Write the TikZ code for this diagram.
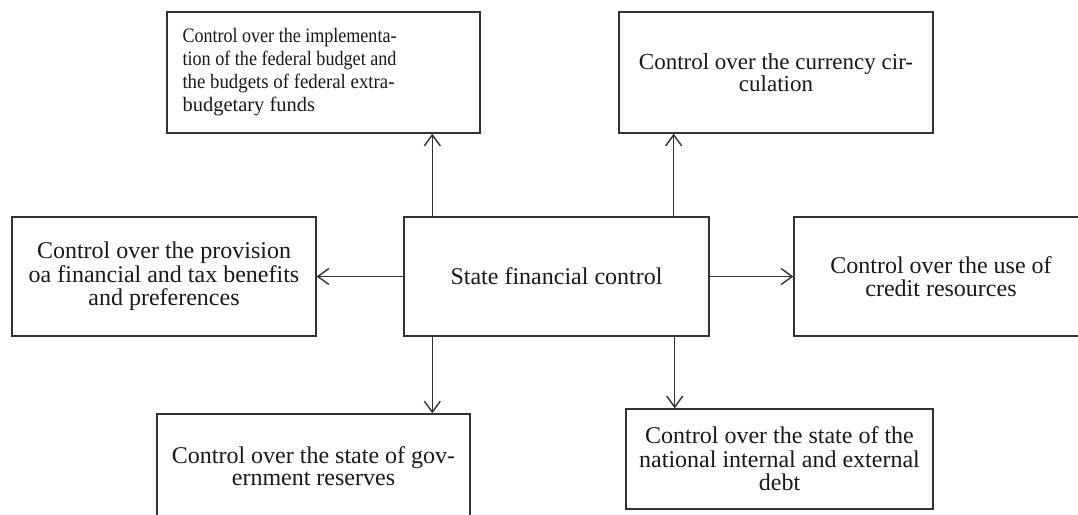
\documentclass[tikz,border=0pt]{standalone}
\usepackage{fontspec}
\usepackage{graphicx}
\setmainfont{Liberation Serif}
\usetikzlibrary{arrows.meta}
\begin{document}
\begin{tikzpicture}[x=1pt,y=-1pt,
  box/.style={draw=black!80, line width=1.4pt, inner sep=0pt, align=center,
    text=black!90, font=\fontsize{24}{23.5}\selectfont},
  smalltext/.style={inner sep=0pt, align=left, text=black!90, font=\fontsize{20.5}{23}\selectfont},
  arr/.style={draw=black!80, line width=1.4pt,
    -{Straight Barb[length=11pt,width=16pt,line width=1.4pt]}}]
\useasboundingbox (0,0) rectangle (1078,514);
% centre
\node[box, minimum width=305, minimum height=119] (c) at (556.5,276.5) {State financial control};
% top left
\node[box, minimum width=313, minimum height=121] (tl) at (323.5,72.5) {};
\node[smalltext, anchor=west] (tlt) at ([xshift=16pt,yshift=0.5pt]tl.west) {%
\resizebox{214pt}{\height}{Control over the implementa-}\\
\resizebox{214pt}{\height}{tion of the federal budget and}\\
\makebox[214pt][s]{\resizebox{212pt}{\height}{the budgets of federal extra-}}\\
budgetary funds};
% currency
\node[box, minimum width=314, minimum height=121, font=\fontsize{23}{22.5}\selectfont] (cur) at (776,72.5) {Control over the currency cir-\\culation};
% provision
\node[box, minimum width=304, minimum height=119] (prov) at (164,276.5) {Control over the provision\\oa financial and tax benefits\\and preferences};
% credit
\node[box, minimum width=294, minimum height=119] (cred) at (941,276.5) {Control over the use of\\credit resources};
% government reserves
\node[box, minimum width=313, minimum height=104, font=\fontsize{24}{22.5}\selectfont] (gov) at (313.5,466) {Control over the state of gov-\\ernment reserves};
% debt
\node[box, minimum width=307, minimum height=100] (debt) at (779.5,459) {Control over the state of the\\national internal and external\\debt};
% connectors
\coordinate (a1) at ([xshift=29pt]c.north west);
\coordinate (a2) at ([xshift=-36pt]c.north east);
\coordinate (b1) at ([xshift=29pt]c.south west);
\coordinate (b2) at ([xshift=-35pt]c.south east);
\draw[arr] (a1) -- (a1 |- tl.south);
\draw[arr] (a2) -- (a2 |- cur.south);
\draw[arr] (c.west) -- (prov.east);
\draw[arr] (c.east) -- (cred.west);
\draw[arr] (b1) -- (b1 |- gov.north);
\draw[arr] (b2) -- (b2 |- debt.north);
\end{tikzpicture}
\end{document}
